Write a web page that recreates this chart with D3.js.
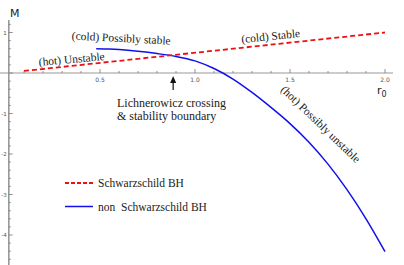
<!DOCTYPE html>
<html>
<head>
<meta charset="utf-8">
<script src="https://cdn.jsdelivr.net/npm/d3@7"></script>
<style>
  body { margin: 0; background: #fff; }
  svg { display: block; }
  .serif { font-family: "Liberation Serif", "DejaVu Serif", serif; fill: #222; }
</style>
</head>
<body>
<svg id="chart"></svg>
<script>
// Schwarzschild BH: M = r0 / 2
var schwR0 = [0.1, 2.0];
var schwM = [0.05, 1.0];

// non Schwarzschild BH
var nonR0 = [0.48, 0.55, 0.6, 0.7, 0.8, 0.9, 1.0, 1.1, 1.2, 1.3, 1.4, 1.5, 1.6, 1.7, 1.8, 1.9, 2.0];
var nonM = [0.60, 0.592, 0.578, 0.535, 0.48, 0.41, 0.30, 0.11, -0.15, -0.48, -0.85, -1.25, -1.71, -2.25, -2.88, -3.60, -4.41];

var xTicks = [0.5, 1.0, 1.5, 2.0];
var yTicks = [1, -1, -2, -3, -4];

var width = 404, height = 265;

var svg = d3.select("#chart")
    .attr("width", width)
    .attr("height", height);

var x = d3.scaleLinear().domain([0, 2]).range([5, 385]);
var y = d3.scaleLinear().domain([0, 1]).range([73, 32.5]);

var axisColor = "#999";
var x0 = x(0.02);

// minor ticks
var xMinor = d3.range(0.1, 2.05, 0.1);
var yMinor = d3.range(-4.6, 1.3, 0.2);

// x axis
svg.append("line")
    .attr("x1", 0).attr("x2", 393)
    .attr("y1", y(0)).attr("y2", y(0))
    .attr("stroke", axisColor).attr("stroke-width", 1.2);

svg.selectAll(".xminor")
    .data(xMinor)
    .enter().append("line")
    .attr("x1", d => x(d)).attr("x2", d => x(d))
    .attr("y1", y(0)).attr("y2", d => y(0) - (Math.abs(d * 2 - Math.round(d * 2)) < 0.01 ? 4 : 2))
    .attr("stroke", "#777").attr("stroke-width", 0.8);

svg.selectAll(".xlab")
    .data(xTicks)
    .enter().append("text")
    .attr("x", d => x(d))
    .attr("y", y(0) + 9)
    .attr("text-anchor", "middle")
    .style("font-family", "DejaVu Sans, sans-serif")
    .style("font-size", "6px")
    .style("fill", "#555")
    .text(d => d.toFixed(1));

// y axis
svg.append("line")
    .attr("x1", x0).attr("x2", x0)
    .attr("y1", y(1.31)).attr("y2", height)
    .attr("stroke", axisColor).attr("stroke-width", 1.6);

svg.selectAll(".yminor")
    .data(yMinor)
    .enter().append("line")
    .attr("x1", x0).attr("x2", d => x0 + (Math.abs(d - Math.round(d)) < 0.01 ? 4 : 2))
    .attr("y1", d => y(d)).attr("y2", d => y(d))
    .attr("stroke", "#777").attr("stroke-width", 0.8);

svg.selectAll(".ylab")
    .data(yTicks)
    .enter().append("text")
    .attr("x", x0 - 2)
    .attr("y", d => y(d) + 2)
    .attr("text-anchor", "end")
    .style("font-family", "DejaVu Sans, sans-serif")
    .style("font-size", "5.5px")
    .style("fill", "#555")
    .text(d => d < 0 ? "-" + Math.abs(d) : d);

// axis titles
svg.append("text")
    .attr("x", 10).attr("y", 17)
    .style("font-family", "DejaVu Sans, sans-serif")
    .style("font-size", "11px")
    .style("fill", "#222")
    .text("M");

var r0 = svg.append("text")
    .attr("x", 377).attr("y", 94)
    .style("font-family", "DejaVu Sans, sans-serif")
    .style("font-size", "11px")
    .style("fill", "#222");
r0.append("tspan").text("r");
r0.append("tspan").attr("dy", 3).style("font-size", "8px").text("0");

// curves
var line = d3.line()
    .x(d => x(d[0]))
    .y(d => y(d[1]))
    .curve(d3.curveCatmullRom);

svg.append("path")
    .datum(d3.zip(nonR0, nonM))
    .attr("d", line)
    .attr("fill", "none")
    .attr("stroke", "#1010ee")
    .attr("stroke-width", 1.5);

svg.append("path")
    .datum(d3.zip(schwR0, schwM))
    .attr("d", line)
    .attr("fill", "none")
    .attr("stroke", "#ee1111")
    .attr("stroke-width", 1.8)
    .attr("stroke-dasharray", "5,3");

// annotations
function label(txt, cx, cy, angle, size) {
    svg.append("text")
        .attr("class", "serif")
        .attr("transform", `translate(${cx},${cy}) rotate(${angle})`)
        .attr("text-anchor", "middle")
        .style("font-size", size + "px")
        .text(txt);
}
label("(cold) Possibly stable", 121, 42, 3, 11.5);
label("(hot) Unstable", 72, 63, -5, 11.5);
label("(cold) Stable", 271, 40, -6, 11.5);
label("(hot) Possibly unstable", 318, 127, 44, 11.5);

// arrow to the crossing
var ax = x(0.885);
svg.append("line")
    .attr("x1", ax).attr("x2", ax)
    .attr("y1", 78).attr("y2", 90)
    .attr("stroke", "#111").attr("stroke-width", 1.2);
svg.append("path")
    .attr("d", `M${ax - 3},${83} L${ax},${76} L${ax + 3},${83} Z`)
    .attr("fill", "#111");

svg.append("text").attr("class", "serif")
    .attr("x", 117).attr("y", 107)
    .style("font-size", "12px")
    .text("Lichnerowicz crossing");
svg.append("text").attr("class", "serif")
    .attr("x", 117).attr("y", 120)
    .style("font-size", "12px")
    .text("& stability boundary");

// legend
var legend = [
    { name: "Schwarzschild BH", color: "#ee1111", dash: "4,2", w: 1.8 },
    { name: "non  Schwarzschild BH", color: "#1010ee", dash: null, w: 1.5 }
];
var lg = svg.selectAll(".legend")
    .data(legend)
    .enter().append("g")
    .attr("transform", (d, i) => `translate(65,${183 + i * 23.5})`);
lg.append("line")
    .attr("x1", 0).attr("x2", 28)
    .attr("stroke", d => d.color)
    .attr("stroke-width", d => d.w)
    .attr("stroke-dasharray", d => d.dash);
lg.append("text").attr("class", "serif")
    .attr("x", 33).attr("y", 4)
    .style("font-size", "11.5px")
    .style("white-space", "pre")
    .text(d => d.name);
</script>
</body>
</html>
